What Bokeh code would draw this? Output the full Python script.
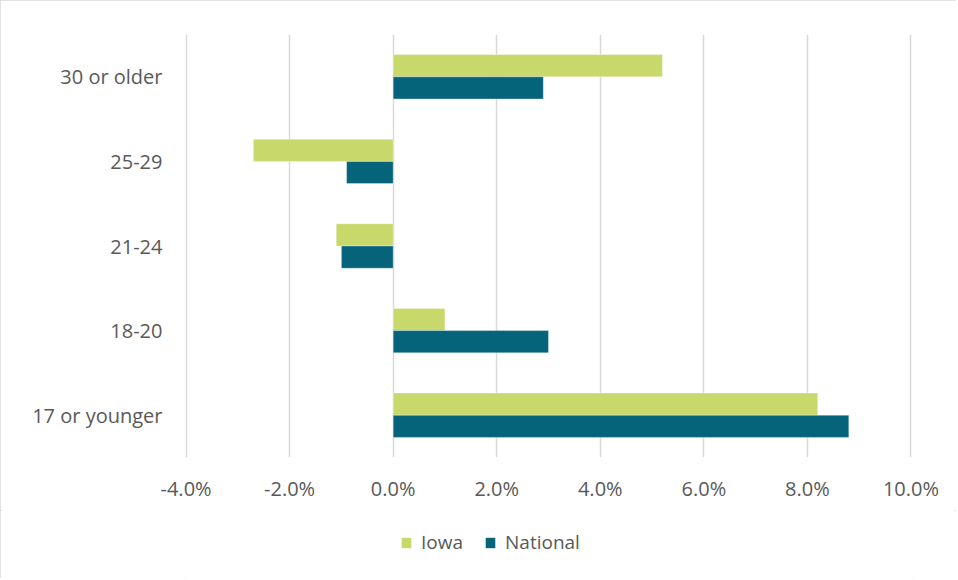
from bokeh.plotting import figure
from bokeh.layouts import column
from bokeh.models import (ColumnDataSource, FactorRange, FixedTicker, PrintfTickFormatter,
                          Legend, LegendItem, Range1d)
from bokeh.transform import dodge
from bokeh.embed import file_html
from bokeh.resources import INLINE

# ---- data ----
categories = ["17 or younger", "18-20", "21-24", "25-29", "30 or older"]
iowa = [8.2, 1.0, -1.1, -2.7, 5.2]
national = [8.8, 3.0, -1.0, -0.9, 2.9]
x_ticks = [-4, -2, 0, 2, 4, 6, 8, 10]
series_names = ["Iowa", "National"]

IOWA_COLOR = "#c8d86a"
NAT_COLOR = "#05637a"
TEXT_COLOR = "#595959"
FONT = "Open Sans"
W = 956

src = ColumnDataSource(dict(cat=categories, iowa=iowa, national=national))

p = figure(width=W, height=510, y_range=FactorRange(*categories),
           x_range=Range1d(-4.03, 10.03), output_backend="svg", toolbar_location=None,
           min_border_left=184, min_border_right=44, min_border_top=34,
           min_border_bottom=53)
p.outline_line_color = None
p.background_fill_color = "white"
p.border_fill_color = "white"

bh = 0.2625
p.hbar(y=dodge("cat", bh / 2, range=p.y_range), left=0, right="iowa", height=bh,
       source=src, fill_color=IOWA_COLOR, line_color="#ffffff", line_alpha=0.35, line_width=1)
p.hbar(y=dodge("cat", -bh / 2, range=p.y_range), left=0, right="national", height=bh,
       source=src, fill_color=NAT_COLOR, line_color="#ffffff", line_alpha=0.35, line_width=1)

# axes
p.xaxis.ticker = FixedTicker(ticks=x_ticks)
p.xaxis.formatter = PrintfTickFormatter(format="%.1f%%")
for ax in (p.xaxis[0], p.yaxis[0]):
    ax.axis_line_color = None
    ax.major_tick_line_color = None
    ax.minor_tick_line_color = None
    ax.major_label_text_font = FONT
    ax.major_label_text_font_size = "20px"
    ax.major_label_text_color = TEXT_COLOR
p.xaxis.major_label_standoff = 11
p.yaxis.major_label_standoff = 16

p.xgrid.grid_line_color = "#d9d9d9"
p.xgrid.grid_line_width = 1.5
p.xgrid.ticker = FixedTicker(ticks=x_ticks)
p.ygrid.grid_line_color = None

# ---- legend strip ----
p2 = figure(width=W, height=68, output_backend="svg", toolbar_location=None,
            x_range=Range1d(0, 1), y_range=Range1d(0, 1),
            min_border=0, min_border_left=0, min_border_right=0,
            min_border_top=0, min_border_bottom=0)
p2.axis.visible = False
p2.grid.visible = False
p2.outline_line_color = None
p2.border_fill_color = "white"
p2.background_fill_color = "white"
hidden = ColumnDataSource(dict(x=[-10], y=[-10]))
l_iowa = p2.rect(x="x", y="y", width=0.1, height=0.1, source=hidden,
                 fill_color=IOWA_COLOR, line_color=None)
l_nat = p2.rect(x="x", y="y", width=0.1, height=0.1, source=hidden,
                fill_color=NAT_COLOR, line_color=None)
legend = Legend(items=[LegendItem(label=series_names[0], renderers=[l_iowa]),
                       LegendItem(label=series_names[1], renderers=[l_nat])],
                orientation="horizontal", location=(216, 23),
                padding=0, margin=0, spacing=21, label_standoff=9,
                glyph_width=12, glyph_height=13,
                border_line_color=None, background_fill_alpha=0,
                label_text_font=FONT, label_text_font_size="19px",
                label_text_color=TEXT_COLOR)
p2.add_layout(legend, "center")

layout = column(p, p2, spacing=0,
                styles={"outline": "2px solid #d9d9d9", "outline-offset": "-2px",
                        "background-color": "white"})

open("out.html", "w").write(file_html(layout, INLINE))
